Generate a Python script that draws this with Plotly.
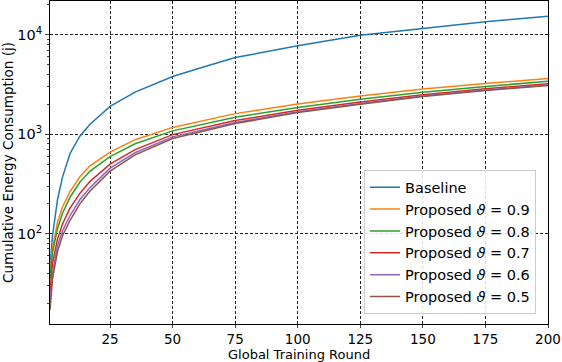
import plotly.graph_objects as go

x_base = [1, 2, 4, 6, 9, 13, 17, 20, 25, 35, 50, 60, 75, 100, 125, 150, 175, 200]
baseline = [45, 95, 220, 370, 640, 960, 1260, 1480, 1900, 2650, 3800, 4550, 5900, 7750, 9900, 11600, 13500, 15400]

x_prop = [1, 2, 4, 6, 9, 13, 17, 25, 35, 50, 75, 100, 125, 150, 175, 200]
theta_09 = [40, 72, 130, 185, 265, 375, 480, 660, 880, 1170, 1610, 2010, 2420, 2840, 3230, 3630]
theta_08 = [35, 64, 112, 160, 232, 330, 425, 595, 800, 1080, 1480, 1860, 2250, 2640, 3020, 3400]
theta_07 = [26, 50, 88, 125, 180, 255, 335, 500, 700, 990, 1370, 1740, 2110, 2490, 2870, 3220]
theta_06 = [19, 40, 76, 106, 152, 220, 290, 455, 650, 940, 1310, 1680, 2040, 2420, 2790, 3120]
theta_05 = [17, 35, 66, 95, 136, 200, 268, 425, 620, 905, 1280, 1650, 2000, 2390, 2750, 3080]

series = [
    ("Baseline", x_base, baseline, "#1f77b4"),
    ("Proposed <i>ϑ</i> = 0.9", x_prop, theta_09, "#ff7f0e"),
    ("Proposed <i>ϑ</i> = 0.8", x_prop, theta_08, "#2ca02c"),
    ("Proposed <i>ϑ</i> = 0.7", x_prop, theta_07, "#d62728"),
    ("Proposed <i>ϑ</i> = 0.6", x_prop, theta_06, "#9467bd"),
    ("Proposed <i>ϑ</i> = 0.5", x_prop, theta_05, "#8c564b"),
]

x_ticks = [25, 50, 75, 100, 125, 150, 175, 200]
y_ticks = [100, 1000, 10000]
y_ticktext = ["10<sup>2</sup>", "10<sup>3</sup>", "10<sup>4</sup>"]
y_minor = [m * d for d in (10, 100, 1000, 10000) for m in range(2, 10)]

fig = go.Figure()
for i, (name, xs, ys, color) in enumerate(series):
    fig.add_trace(go.Scatter(
        x=xs, y=ys, mode="lines", name=name, legendgroup=str(i),
        line=dict(color=color, width=1.5),
    ))

grid = dict(showgrid=True, gridcolor="#222", gridwidth=0.8, griddash="3px,2px")

fig.update_layout(
    width=562, height=362,
    margin=dict(l=50, r=14, t=1, b=38),
    paper_bgcolor="white", plot_bgcolor="white",
    font=dict(family="DejaVu Sans", size=14, color="black"),
    legend=dict(
        x=0.976, y=0.03, xanchor="right", yanchor="bottom",
        bgcolor="rgba(255,255,255,0.85)", bordercolor="#ccc", borderwidth=1,
        font=dict(size=14.5), tracegroupgap=0,
    ),
    xaxis=dict(
        range=[1, 200], tickvals=x_ticks, ticks="outside", ticklen=3,
        tickfont=dict(size=13.5),
        showline=True, linecolor="black", mirror=True, zeroline=False,
        **grid,
    ),
    yaxis=dict(
        type="log", range=[1.09, 4.34], tickvals=y_ticks, ticktext=y_ticktext,
        ticks="outside", ticklen=4, tickfont=dict(size=14.5),
        minor=dict(tickvals=y_minor, ticks="outside", ticklen=2, showgrid=False),
        showline=True, linecolor="black", mirror=True, zeroline=False,
        title=dict(text="Cumulative Energy Consumption (j)", standoff=3, font=dict(size=13.5)),
        **grid,
    ),
)

# x-axis title as an annotation so it sits just under the tick labels
fig.add_annotation(
    text="Global Training Round", xref="paper", yref="paper", x=0.5, y=0,
    xanchor="center", yanchor="top", yshift=-22, showarrow=False,
    borderpad=0, font=dict(size=13),
)

fig.write_html("out.html", config={"displayModeBar": False},
               post_script="document.body.style.margin='0';")
